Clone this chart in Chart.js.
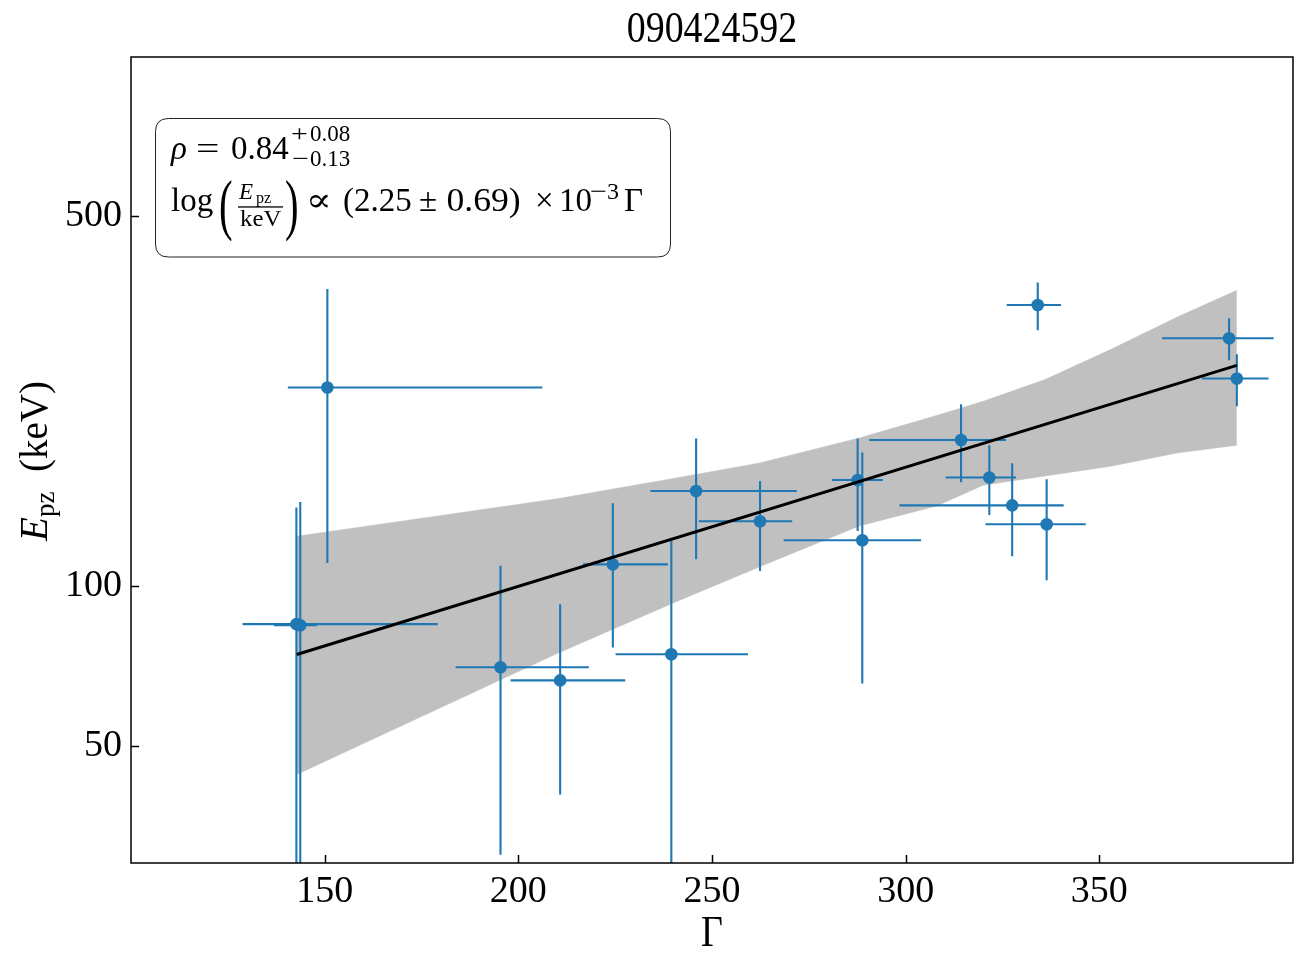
<!DOCTYPE html>
<html><head><meta charset="utf-8">
<script src="https://cdn.jsdelivr.net/npm/chart.js@4/dist/chart.umd.min.js"></script>
<style>html,body{margin:0;padding:0;background:#fff}canvas{display:block}</style>
</head><body>
<canvas id="c" width="1309" height="970"></canvas>
<script>
// ---------- data ----------
const titleText = "090424592";
const gamma   = [142.7, 143.7, 150.7, 195.4, 210.8, 224.4, 239.5, 245.9, 262.4, 287.6, 288.8, 314.3, 321.6, 327.5, 336.4, 334.1, 383.5, 385.5];
const epz     = [84.8, 84.4, 237.5, 70.3, 66.4, 110.0, 74.4, 151.4, 132.7, 158.8, 122.2, 189.0, 160.5, 142.2, 131.0, 340.0, 294.2, 246.9];
const gammaLo = [128.8, 136.9, 140.5, 183.8, 198.0, 216.7, 225.1, 234.1, 246.6, 281.0, 268.5, 290.6, 310.3, 298.4, 320.6, 326.1, 366.2, 376.5];
const gammaHi = [179.2, 148.0, 206.2, 218.2, 227.6, 238.6, 259.3, 271.9, 270.7, 294.1, 304.0, 325.9, 328.5, 340.8, 346.5, 340.1, 395.0, 393.7];
const epzLo   = [5, 5, 110.7, 31.1, 40.4, 76.6, 5, 112.5, 106.9, 127.2, 65.5, 157.2, 136.4, 113.9, 102.6, 304.6, 267.3, 218.8];
const epzHi   = [140.8, 144.3, 364.3, 109.3, 92.5, 143.5, 121.8, 190.1, 158.1, 190.1, 178.9, 220.8, 184.7, 170.8, 159.3, 374.8, 320.8, 274.4];

const fitGamma = [142.8, 385.5];
const fitEpz   = [74.3, 261.5];

const bandGamma = [142.8, 210, 240, 262, 288, 308, 320, 336, 353, 370, 385.5];
const bandHi    = [124.3, 146.3, 159.8, 170.8, 190.6, 210.3, 223.6, 245.8, 280.3, 322.3, 362.4];
const bandLo    = [44.1, 74.6, 93.0, 108.6, 130.0, 141.8, 155.2, 161.6, 168.6, 178.5, 184.7];

const xTicks = [150, 200, 250, 300, 350];
const yTicks = [50, 100, 500];
const xRange = [100, 400];
const yRange = [30, 1000];

// ---------- styles ----------
const BLUE = '#1f77b4';
const SERIF = '"Liberation Serif", "DejaVu Serif", serif';

function xy(xs, ys) { return xs.map((v, i) => ({x: v, y: ys[i]})); }

function font(size, italic) { return (italic ? 'italic ' : '') + size + 'px ' + SERIF; }
function put(ctx, s, x, y, size, italic, sx) {
  ctx.save();
  ctx.font = font(size, italic);
  ctx.translate(x, y);
  if (sx) ctx.scale(sx, 1);
  ctx.fillText(s, 0, 0);
  ctx.restore();
}

const decor = {
  id: 'decor',
  beforeDatasetDraw(chart, args) {
    if (args.index !== 2) return;
    const {ctx, chartArea: a, scales: {x, y}} = chart;
    ctx.save();
    ctx.beginPath();
    ctx.rect(a.left, a.top, a.right - a.left, a.bottom - a.top);
    ctx.clip();
    ctx.strokeStyle = BLUE;
    ctx.lineWidth = 2.1;
    for (let i = 0; i < gamma.length; i++) {
      const px = x.getPixelForValue(gamma[i]);
      const py = y.getPixelForValue(epz[i]);
      ctx.beginPath();
      ctx.moveTo(x.getPixelForValue(gammaLo[i]), py);
      ctx.lineTo(x.getPixelForValue(gammaHi[i]), py);
      ctx.moveTo(px, y.getPixelForValue(epzLo[i]));
      ctx.lineTo(px, y.getPixelForValue(epzHi[i]));
      ctx.stroke();
    }
    ctx.restore();
  },
  afterDraw(chart) {
    const {ctx, chartArea: a, scales: {x, y}} = chart;
    ctx.save();
    // frame
    ctx.strokeStyle = '#000';
    ctx.lineWidth = 1.5;
    ctx.strokeRect(a.left, a.top, a.right - a.left, a.bottom - a.top);
    // inward ticks
    ctx.beginPath();
    xTicks.forEach(v => { const p = Math.round(x.getPixelForValue(v)) + 0.5; ctx.moveTo(p, a.bottom); ctx.lineTo(p, a.bottom - 8); });
    yTicks.forEach(v => { const p = Math.round(y.getPixelForValue(v)) + 0.5; ctx.moveTo(a.left, p); ctx.lineTo(a.left + 8, p); });
    ctx.stroke();

    ctx.fillStyle = '#000';
    ctx.textAlign = 'left';
    ctx.textBaseline = 'alphabetic';
    // title
    ctx.font = font(44);
    const tw = ctx.measureText(titleText).width * 0.86;
    put(ctx, titleText, (a.left + a.right) / 2 - tw / 2, 41.5, 44, false, 0.86);

    // x label
    ctx.font = font(44);
    const gw = ctx.measureText('\u0393').width * 0.86;
    put(ctx, '\u0393', (a.left + a.right) / 2 - gw / 2, 946, 44, false, 0.86);

    // y label (rotated)
    ctx.save();
    ctx.translate(47, 460);
    ctx.rotate(-Math.PI / 2);
    put(ctx, 'E', -81, 0, 39, true);
    put(ctx, 'pz', -57, 7, 27, false);
    put(ctx, '(keV)', -12, 0, 39, false);
    ctx.restore();

    // annotation box
    const bx = 155.5, by = 118.5, bw = 515, bh = 138.5, r = 13;
    ctx.beginPath();
    ctx.moveTo(bx + r, by);
    ctx.lineTo(bx + bw - r, by);
    ctx.quadraticCurveTo(bx + bw, by, bx + bw, by + r);
    ctx.lineTo(bx + bw, by + bh - r);
    ctx.quadraticCurveTo(bx + bw, by + bh, bx + bw - r, by + bh);
    ctx.lineTo(bx + r, by + bh);
    ctx.quadraticCurveTo(bx, by + bh, bx, by + bh - r);
    ctx.lineTo(bx, by + r);
    ctx.quadraticCurveTo(bx, by, bx + r, by);
    ctx.closePath();
    ctx.fillStyle = '#fff';
    ctx.fill();
    ctx.strokeStyle = '#222';
    ctx.lineWidth = 1;
    ctx.stroke();

    ctx.fillStyle = '#000';
    // line 1
    put(ctx, '\u03C1', 171, 159, 33, true);
    put(ctx, '=', 196, 159, 32, false, 1.3);
    put(ctx, '0.84', 231, 159, 33, false);
    put(ctx, '+', 291, 140.5, 23, false, 1.3);
    put(ctx, '0.08', 310, 140.5, 23, false);
    put(ctx, '\u2212', 292, 165.5, 23, false, 1.3);
    put(ctx, '0.13', 310, 165.5, 23, false);
    // line 2
    put(ctx, 'log', 171, 210.5, 33, false);
    put(ctx, '(', 219, 227, 68, false, 0.6);
    put(ctx, 'E', 239, 199, 23, true);
    put(ctx, 'pz', 256, 203, 16, false);
    ctx.fillRect(238, 206.3, 45, 1.3);
    put(ctx, 'keV', 240, 226, 23, false, 1.08);
    put(ctx, ')', 285, 227, 68, false, 0.6);
    put(ctx, '\u221D', 306, 210.5, 33, false, 1.15);
    put(ctx, '(2.25', 343, 210.5, 33, false);
    put(ctx, '\u00B1', 419, 210.5, 33, false);
    put(ctx, '0.69)', 446.5, 210.5, 33, false, 1.08);
    put(ctx, '\u00D7', 535, 210.5, 33, false);
    put(ctx, '10', 559, 210.5, 33, false);
    put(ctx, '\u2212', 590, 199, 24, false, 1.25);
    put(ctx, '3', 607, 199, 24, false);
    put(ctx, '\u0393', 624, 210.5, 33, false);
    ctx.restore();
  }
};

new Chart(document.getElementById('c'), {
  type: 'scatter',
  data: {
    datasets: [
      { type: 'line', data: xy(bandGamma, bandHi), borderColor: '#c0c0c0', borderWidth: 0.5,
        pointRadius: 0, fill: '+1', backgroundColor: '#c0c0c0', tension: 0, order: 3 },
      { type: 'line', data: xy(bandGamma, bandLo), borderColor: '#c0c0c0', borderWidth: 0.5,
        pointRadius: 0, fill: false, tension: 0, order: 3 },
      { type: 'scatter', data: xy(gamma, epz), pointRadius: 6.3, pointHoverRadius: 6.3,
        backgroundColor: BLUE, borderWidth: 0, order: 2 },
      { type: 'line', data: xy(fitGamma, fitEpz), borderColor: '#000', borderWidth: 3,
        pointRadius: 0, fill: false, tension: 0, order: 1 }
    ]
  },
  options: {
    responsive: false,
    animation: false,
    devicePixelRatio: 1,
    layout: { padding: { top: 57, right: 16, left: 0, bottom: 0 } },
    plugins: { legend: { display: false }, tooltip: { enabled: false }, title: { display: false } },
    scales: {
      x: {
        type: 'linear', min: xRange[0], max: xRange[1],
        afterBuildTicks: s => { s.ticks = xTicks.map(v => ({ value: v })); },
        afterFit: s => { s.height = 107; },
        grid: { display: false, drawTicks: false },
        border: { display: false },
        ticks: { autoSkip: false, maxRotation: 0, padding: 6, color: '#000',
                 font: { family: SERIF, size: 38 }, callback: v => String(v) }
      },
      y: {
        type: 'logarithmic', min: yRange[0], max: yRange[1],
        afterBuildTicks: s => { s.ticks = yTicks.map(v => ({ value: v })); },
        afterFit: s => { s.width = 131; },
        grid: { display: false, drawTicks: false },
        border: { display: false },
        ticks: { autoSkip: false, padding: 9, color: '#000',
                 font: { family: SERIF, size: 38 }, callback: v => String(v) }
      }
    }
  },
  plugins: [decor]
});
</script>
</body></html>
